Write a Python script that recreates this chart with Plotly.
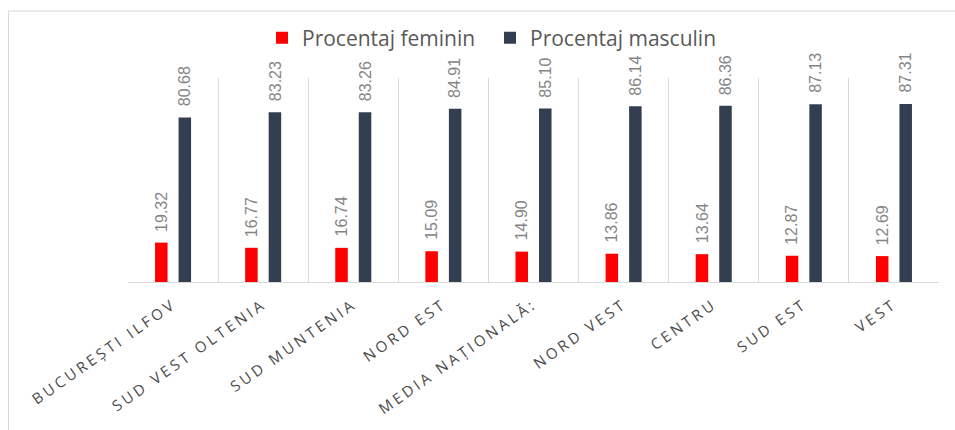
import plotly.graph_objects as go

# Regional shares by gender (percent)
regions = [
    "BUCUREȘTI ILFOV",
    "SUD VEST OLTENIA",
    "SUD MUNTENIA",
    "NORD EST",
    "MEDIA NAȚIONALĂ:",
    "NORD VEST",
    "CENTRU",
    "SUD EST",
    "VEST",
]
feminin = [19.32, 16.77, 16.74, 15.09, 14.90, 13.86, 13.64, 12.87, 12.69]
masculin = [80.68, 83.23, 83.26, 84.91, 85.10, 86.14, 86.36, 87.13, 87.31]

W, H = 955, 430
L, R, T, B = 128, 16, 78, 148

label_font = dict(family="Liberation Sans Narrow, Arial Narrow, Liberation Sans, sans-serif",
                  size=16, color="#858585")

series = [
    ("Procentaj feminin", feminin, "#ff0000", -11.75),
    ("Procentaj masculin", masculin, "#333f50", 11.75),
]

fig = go.Figure()
annotations = []
for name, vals, color, shift in series:
    fig.add_trace(go.Bar(
        name=name, x=regions, y=vals,
        marker=dict(color=color, line=dict(width=0)),
        hovertemplate="%{x}: %{y:.2f}<extra>" + name + "</extra>",
    ))
    # value labels, rotated and lifted a little above each bar
    for cat, v in zip(regions, vals):
        annotations.append(dict(
            x=cat, y=v, xref="x", yref="y", text=f"{v:.2f}",
            showarrow=False, textangle=-90, font=label_font,
            xanchor="center", yanchor="bottom", xshift=shift, yshift=9,
        ))

pw = W - L - R
ph = H - T - B
def px_x(p):
    return (p - L) / pw
def px_y(p):
    return (H - B - p) / ph

fig.update_layout(
    width=W, height=H,
    margin=dict(l=L, r=R, t=T, b=B, pad=0),
    paper_bgcolor="white", plot_bgcolor="white",
    barmode="group", bargap=0.478, bargroupgap=0.468,
    font=dict(family="Open Sans, sans-serif", color="#595959"),
    showlegend=True,
    legend=dict(
        orientation="h", x=px_x(262), xanchor="left",
        y=px_y(38), yanchor="middle",
        font=dict(size=21, color="#595959"),
        entrywidth=183, entrywidthmode="pixels",
        itemsizing="constant", traceorder="normal",
        bgcolor="rgba(0,0,0,0)",
    ),
    xaxis=dict(
        type="category", range=[-0.5, 8.5],
        tickson="boundaries", showgrid=True, gridcolor="#d9d9d9", gridwidth=1,
        showline=True, linecolor="#d9d9d9", linewidth=1,
        ticks="", tickangle=-35, ticklabelstandoff=7,
        tickfont=dict(family="Open Sans, sans-serif", size=15, color="#4d4d4d"),
        fixedrange=True,
    ),
    yaxis=dict(
        range=[0, 100], showgrid=False, zeroline=False, showline=False,
        showticklabels=False, ticks="", fixedrange=True,
    ),
    annotations=annotations,
    shapes=[dict(
        type="rect", xref="paper", yref="paper",
        x0=px_x(8.5), x1=px_x(990), y0=px_y(11), y1=px_y(470),
        line=dict(color="#d9d9d9", width=1), layer="below",
    )],
)

# Widen the spacing between letters of the category labels
spacing_js = """
var gd = document.getElementsByClassName('plotly-graph-div')[0];
function spaceTicks(){
  gd.querySelectorAll('.xtick text').forEach(function(t){
    t.style.letterSpacing = '3.2px';
  });
}
spaceTicks();
gd.on('plotly_afterplot', spaceTicks);
"""

fig.write_html("out.html", post_script=spacing_js)
